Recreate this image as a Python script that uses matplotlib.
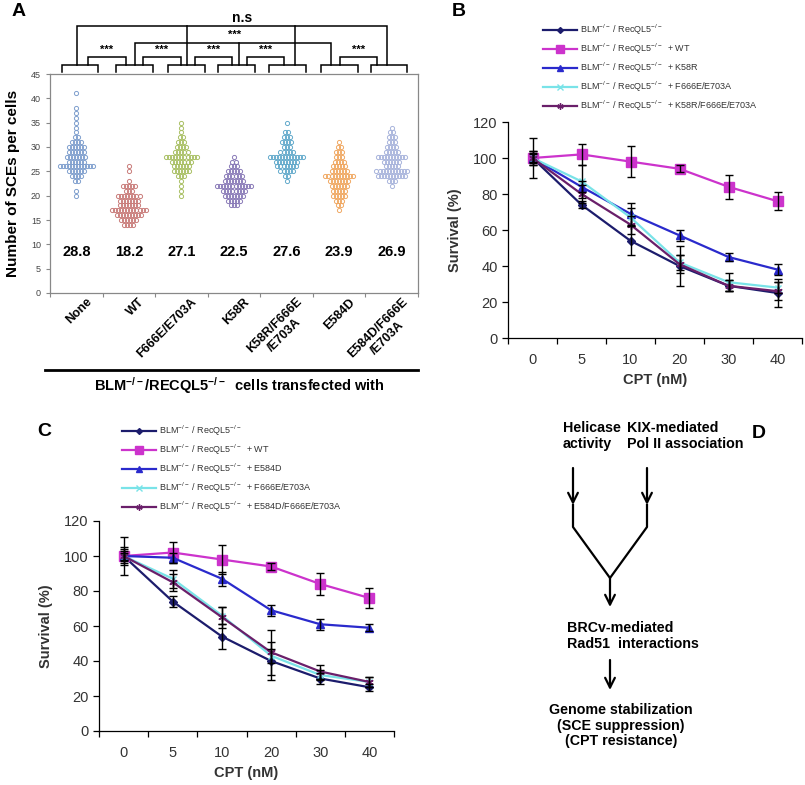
import numpy as np
import matplotlib.pyplot as plt

plt.rcParams['font.family'] = ['Liberation Sans', 'DejaVu Sans']
plt.rcParams['mathtext.fontset'] = 'custom'
plt.rcParams['mathtext.rm'] = 'Liberation Sans'
plt.rcParams['mathtext.bf'] = 'Liberation Sans:bold'
plt.rcParams['mathtext.it'] = 'Liberation Sans:italic'

# ---------------- panel A data: SCE count -> number of cells
groups = ["None", "WT", "F666E/E703A", "K58R", "K58R/F666E\n/E703A", "E584D",
          "E584D/F666E\n/E703A"]
means = ["28.8", "18.2", "27.1", "22.5", "27.6", "23.9", "26.9"]
sce_none = {41: 1, 38: 1, 37: 1, 36: 1, 35: 1, 34: 1, 33: 1, 32: 2, 31: 4, 30: 6, 29: 6,
            28: 7, 27: 6, 26: 12, 25: 6, 24: 4, 23: 2, 21: 1, 20: 1}
sce_wt = {26: 1, 25: 1, 23: 1, 22: 5, 21: 3, 20: 8, 19: 7, 18: 7, 17: 12, 16: 9, 15: 6, 14: 4}
sce_ff = {35: 1, 34: 1, 33: 1, 32: 2, 31: 3, 30: 4, 29: 5, 28: 11, 27: 7, 26: 6, 25: 6,
          24: 3, 23: 1, 22: 1, 21: 1, 20: 1}
sce_k58r = {28: 1, 27: 2, 26: 3, 25: 5, 24: 6, 23: 7, 22: 12, 21: 8, 20: 7, 19: 5, 18: 3}
sce_k58r_ff = {35: 1, 33: 2, 32: 3, 31: 4, 30: 3, 29: 5, 28: 12, 27: 8, 26: 7, 25: 5,
               24: 2, 23: 1}
sce_e584d = {31: 1, 30: 2, 29: 3, 28: 3, 27: 4, 26: 5, 25: 6, 24: 10, 23: 7, 22: 6, 21: 5,
             20: 5, 19: 3, 18: 2, 17: 1}
sce_e584d_ff = {34: 1, 33: 2, 32: 3, 31: 3, 30: 4, 29: 5, 28: 10, 27: 6, 26: 5, 25: 11,
                24: 10, 23: 3, 22: 1}
dot_colors = ['#7f9fce', '#c97c7a', '#a9c064', '#8a7bb8', '#62aacb', '#f0a862', '#a8b4dc']

# ---------------- panels B / C data
cpt = ["0", "5", "10", "20", "30", "40"]
b_base = [100, 74, 54, 40, 29, 25]
b_base_err = [4, 2, 8, 11, 3, 8]
b_wt = [100, 102, 98, 94, 84, 76]
b_wt_err = [2, 6, 8.5, 2, 6.5, 5]
b_k58r = [100, 84, 69, 57, 45, 38]
b_k58r_err = [3, 3, 6, 3, 2, 3]
b_ff = [100, 87, 67, 42, 31, 28]
b_ff_err = [11, 9, 5, 4, 5, 3]
b_k58r_ff = [100, 80, 63, 41, 29, 26]
b_k58r_ff_err = [4, 5, 5, 5, 3, 5]

c_base = [100, 74, 54, 40, 30, 25]
c_base_err = [4, 3, 7, 11, 3, 2]
c_wt = [100, 102, 98, 94, 84, 76]
c_wt_err = [2, 6, 8.5, 2, 6.5, 5.5]
c_e584d = [100, 99, 87, 69, 61, 59]
c_e584d_err = [3, 3, 4, 3, 3, 2]
c_ff = [100, 87, 66, 43, 32, 28]
c_ff_err = [11, 5, 5, 4, 3, 3]
c_e584d_ff = [100, 85, 65, 45, 34, 28]
c_e584d_ff_err = [5, 5, 6, 13, 4, 3]

base_lab = r"BLM$^{-/-}$ / RecQL5$^{-/-}$"
b_labels = [base_lab, base_lab + "  + WT", base_lab + "  + K58R",
            base_lab + "  + F666E/E703A", base_lab + "  + K58R/F666E/E703A"]
c_labels = [base_lab, base_lab + "  + WT", base_lab + "  + E584D",
            base_lab + "  + F666E/E703A", base_lab + "  + E584D/F666E/E703A"]

styles = [dict(color='#1c1c6c', marker='D', ms=4),
          dict(color='#cc33cc', marker='s', ms=7),
          dict(color='#2a2acc', marker='^', ms=6),
          dict(color='#79e3e8', marker='x', ms=5, mew=1),
          dict(color='#6a1f6a', marker=(6, 2, 0), ms=6, mew=1)]

W, H = 805, 785
fig = plt.figure(figsize=(W / 100, H / 100), dpi=100)


def rect(x0, y0, x1, y1):
    return [x0 / W, 1 - y1 / H, (x1 - x0) / W, (y1 - y0) / H]


# ---------------- panel A
axA = fig.add_axes(rect(50, 74, 418, 293))
sce_all = [sce_none, sce_wt, sce_ff, sce_k58r, sce_k58r_ff, sce_e584d, sce_e584d_ff]
for i, d in enumerate(sce_all):
    xs, ys = [], []
    for v, n in d.items():
        xs += list(i + (np.arange(n) - (n - 1) / 2) * 0.058)
        ys += [v] * n
    axA.plot(xs, ys, 'o', ms=3.0, mfc='none', mec=dot_colors[i], mew=0.7, ls='none')
    axA.text(i, 8.5, means[i], ha='center', va='center', fontsize=10.5, fontweight='bold')

axA.set_xlim(-0.5, 6.5)
axA.set_ylim(0, 45)
axA.set_yticks(range(0, 46, 5))
axA.tick_params(axis='y', labelsize=6.5, labelcolor='#444444', length=3, width=0.8,
                color='#888888')
axA.set_xticks(np.arange(-0.5, 7, 1))
axA.set_xticklabels([])
axA.tick_params(axis='x', length=3, color='#888888')
for s in axA.spines.values():
    s.set_color('#888888')
    s.set_linewidth(0.9)
for i, g in enumerate(groups):
    axA.text(i + 0.18, -0.6, g, rotation=45, ha='right', va='top', rotation_mode='anchor',
             multialignment='center', fontsize=9, fontweight='bold')
axA.set_ylabel("Number of SCEs per cells", fontsize=11, fontweight='bold', labelpad=8)

# significance brackets
kw = dict(color='black', lw=1.1, clip_on=False, solid_joinstyle='miter')
y0, y1 = 45.35, 46.85
small = [(-0.27, 0.41), (0.755, 1.46), (1.74, 2.45), (2.7, 3.4), (3.67, 4.37),
         (4.65, 5.36), (5.6, 6.29)]
for a, b in small:
    axA.plot([a, a, b, b], [y0, y1, y1, y0], **kw)
pairs = [(0.22, 0.95), (1.27, 1.99), (2.26, 2.96), (3.25, 3.95), (5.02, 5.72)]
for a, b in pairs:
    axA.plot([a, a, b, b], [y1, 48.5, 48.5, y1], **kw)
    axA.text((a + b) / 2, 49.9, "***", ha='center', va='center', fontsize=8,
             fontweight='bold')
axA.plot([1.12, 1.12, 4.85, 4.85], [y1, 51.4, 51.4, y1], **kw)
axA.plot([3.1, 3.1], [y1, 51.4], **kw)
axA.text(3.02, 53.0, "***", ha='center', va='center', fontsize=8, fontweight='bold')
axA.plot([0.01, 0.01, 5.91, 5.91], [y1, 54.9, 54.9, y1], **kw)
axA.plot([2.11, 2.11], [y1, 54.9], **kw)
axA.plot([4.16, 4.16], [y1, 54.9], **kw)
axA.text(3.15, 56.6, "n.s", ha='center', va='center', fontsize=10, fontweight='bold')


# ---------------- panels B / C
def survival(ax, series, errs, labels, leg_xy):
    x = np.arange(len(cpt))
    handles = []
    for vals, st, lab in zip(series, styles, labels):
        h, = ax.plot(x, vals, lw=1.6, label=lab, **st)
        handles.append(h)
    for vals, e in zip(series, errs):
        ax.errorbar(x, vals, yerr=e, fmt='none', ecolor='black', elinewidth=1, capsize=3,
                    capthick=1, zorder=4)
    ax.set_xlim(-0.5, 5.5)
    ax.set_ylim(0, 120)
    ax.set_yticks(range(0, 121, 20))
    ax.set_xticks(x)
    ax.set_xticklabels(cpt)
    ax.set_xticks(np.arange(-0.5, 6, 1), minor=True)
    ax.tick_params(axis='x', which='major', length=0, pad=11, labelsize=10.5,
                   labelcolor='#333333')
    ax.tick_params(axis='x', which='minor', length=4, width=0.9, direction='out')
    ax.tick_params(axis='y', length=4, width=0.9, labelsize=10.5, labelcolor='#333333')
    for s in ['top', 'right']:
        ax.spines[s].set_visible(False)
    for s in ['left', 'bottom']:
        ax.spines[s].set_linewidth(0.9)
    ax.set_ylabel("Survival (%)", fontsize=10.5, fontweight='bold', color='#333333',
                  labelpad=8)
    ax.set_xlabel("CPT (nM)", fontsize=10.5, fontweight='bold', color='#333333',
                  labelpad=4)
    fig.legend(handles=handles, loc='upper left', bbox_to_anchor=leg_xy,
               bbox_transform=fig.transFigure, frameon=False, fontsize=6.5,
               handlelength=3.8, handletextpad=0.3, labelspacing=0.5, borderpad=0,
               borderaxespad=0, labelcolor='#333333', markerscale=0.75)


axB = fig.add_axes(rect(508, 122, 802, 338))
survival(axB, [b_base, b_wt, b_k58r, b_ff, b_k58r_ff],
         [b_base_err, b_wt_err, b_k58r_err, b_ff_err, b_k58r_ff_err], b_labels,
         (543 / W, 1 - 23 / H))

axC = fig.add_axes(rect(99, 521, 394, 731))
survival(axC, [c_base, c_wt, c_e584d, c_ff, c_e584d_ff],
         [c_base_err, c_wt_err, c_e584d_err, c_ff_err, c_e584d_ff_err], c_labels,
         (122 / W, 1 - 424 / H))

# ---------------- overlay: panel letters, caption, panel D
ov = fig.add_axes([0, 0, 1, 1])
ov.set_xlim(0, W)
ov.set_ylim(H, 0)
ov.axis('off')
for t, x, y in [("A", 12, 12), ("B", 452, 12), ("C", 37, 432), ("D", 752, 433)]:
    ov.text(x, y, t, fontsize=14, fontweight='bold', ha='left', va='center')

ov.plot([45, 418], [370, 370], color='black', lw=2)
ov.text(239, 386, r"BLM$^{\mathbf{-/-}}$/RECQL5$^{\mathbf{-/-}}$  cells transfected with",
        ha='center', va='center', fontsize=10.5, fontweight='bold')

dk = dict(fontsize=10.3, fontweight='bold', va='top', linespacing=1.15)
ov.text(563, 421, "Helicase\nactivity", ha='left', **dk)
ov.text(627, 421, "KIX-mediated\nPol II association", ha='left', **dk)
ov.text(567, 621, "BRCv-mediated\nRad51  interactions", ha='left', **dk)
ov.text(621, 703, "Genome stabilization\n(SCE suppression)\n(CPT resistance)", ha='center',
        multialignment='center', **dk)
akw = dict(arrowstyle='->,head_length=0.7,head_width=0.35', lw=1.6, color='black',
           shrinkA=0, shrinkB=0)
for x in [573, 647]:
    ov.annotate("", xy=(x, 505), xytext=(x, 468), arrowprops=akw)
ov.plot([573, 573, 610, 647, 647], [505, 527, 578, 527, 505], color='black', lw=1.6)
ov.annotate("", xy=(610, 607), xytext=(610, 578), arrowprops=akw)
ov.annotate("", xy=(610, 690), xytext=(610, 660), arrowprops=akw)

fig.savefig("out.png", dpi=100)
